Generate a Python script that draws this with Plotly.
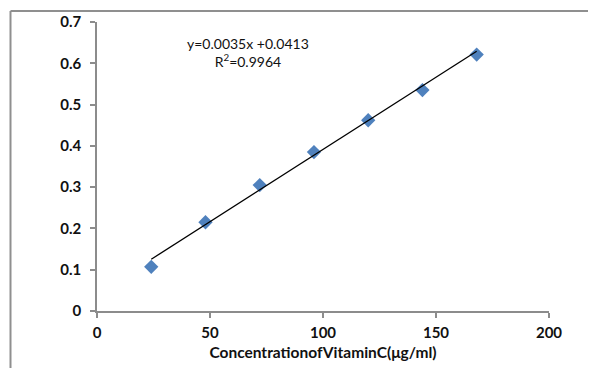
import plotly.graph_objects as go

concentration = [24, 48, 72, 96, 120, 144, 168]
absorbance = [0.107, 0.215, 0.305, 0.385, 0.462, 0.535, 0.621]
slope = 0.0035
intercept = 0.0413
r_squared = 0.9964
x_ticks = [0, 50, 100, 150, 200]
y_ticks = [0, 0.1, 0.2, 0.3, 0.4, 0.5, 0.6, 0.7]

x_fit = [min(concentration), max(concentration)]
y_fit = [slope * v + intercept for v in x_fit]

fig = go.Figure()
fig.add_trace(go.Scatter(
    x=concentration, y=absorbance, mode="markers",
    marker=dict(symbol="diamond", size=11, color="#4F81BD"),
    showlegend=False, cliponaxis=False))
fig.add_trace(go.Scatter(
    x=x_fit, y=y_fit, mode="lines",
    line=dict(color="black", width=1.3), showlegend=False))

axis_font = dict(family="Lato, Open Sans, sans-serif", size=15.5, color="#111111")
tick_font = dict(family="Lato, Open Sans, sans-serif", size=15, color="#111111", weight="bold")
fig.update_xaxes(
    range=[0, 200], tickvals=x_ticks, ticktext=[str(v) for v in x_ticks],
    showgrid=False, zeroline=False, showline=True, linecolor="#8c8c8c", linewidth=1.5,
    ticks="outside", ticklen=5, tickcolor="#8c8c8c", tickwidth=1.5,
    tickfont=tick_font, ticklabelstandoff=2, automargin=False,
    title=dict(text="<b>ConcentrationofVitaminC(μg/ml)</b>", font=axis_font, standoff=7))
fig.update_yaxes(
    range=[0, 0.7], tickvals=y_ticks, ticktext=[("%g" % v) for v in y_ticks],
    showgrid=False, zeroline=False, showline=True, linecolor="#8c8c8c", linewidth=1.5,
    ticks="outside", ticklen=5, tickcolor="#8c8c8c", tickwidth=1.5,
    tickfont=tick_font, ticklabelstandoff=6, automargin=False)

fig.add_annotation(
    x=67, y=0.626, xref="x", yref="y", showarrow=False, align="center",
    text="y=0.0035x +0.0413<br>R<sup>2</sup>=%.4f" % r_squared,
    font=dict(family="Lato, Open Sans, sans-serif", size=14, color="#111111"))

# outer chart frame (top and left edges visible)
frame_top = (311 - 11) / 289
frame_left = (10.5 - 97) / 452
fig.add_shape(type="line", xref="paper", yref="paper", layer="above",
              x0=frame_left, x1=1.3, y0=frame_top, y1=frame_top,
              line=dict(color="#8f8f8f", width=2))
fig.add_shape(type="line", xref="paper", yref="paper", layer="above",
              x0=frame_left, x1=frame_left, y0=frame_top, y1=-0.4,
              line=dict(color="#8f8f8f", width=2))

# the page body keeps its default 8px margin, so the figure is laid out 8px up/left
fig.update_layout(
    width=596, height=368,
    margin=dict(l=89, r=55, t=14, b=65),
    paper_bgcolor="white", plot_bgcolor="white",
)
fig.write_html("out.html", config={"displayModeBar": False})
